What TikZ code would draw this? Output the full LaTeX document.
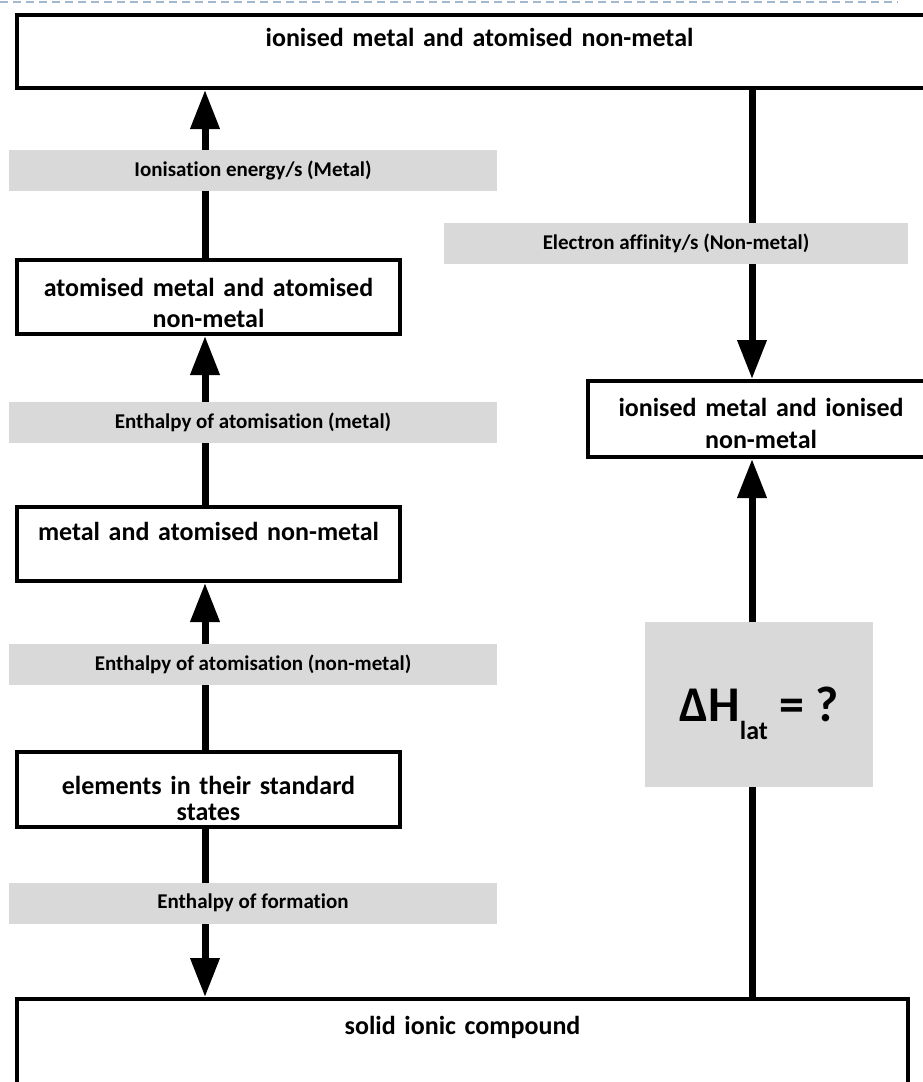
\documentclass[tikz,border=0pt]{standalone}
\usepackage{fontspec}
\setmainfont{Carlito}[Ligatures=NoCommon]
\usetikzlibrary{arrows.meta}
\definecolor{bandgray}{RGB}{217,217,217}
\definecolor{rulegray}{RGB}{163,184,204}

\begin{document}
\begin{tikzpicture}[x=1pt, y=-1pt,
    stage/.style={draw, line width=4pt, inner sep=0pt, align=center, anchor=north west,
        font=\fontsize{26}{31}\selectfont\bfseries},
    band/.style={fill=bandgray, inner sep=0pt, minimum height=41pt,
        font=\fontsize{21}{25}\selectfont\bfseries},
    flow/.style={line width=7pt, -{Triangle[width=28pt,length=39pt]}}]
    \useasboundingbox (0,0) rectangle (922,1082);
    \draw[rulegray, line width=2pt, dash pattern=on 8pt off 5pt] (0,2) -- (898,2);

    \coordinate (lcol) at (205,0);
    \coordinate (rcol) at (752,0);

    \node[stage, text width=925pt, text height=31pt, text depth=42pt] (top) at (15,13)
        {ionised metal and atomised non-metal};
    \node[stage, text width=383pt, text height=36pt, text depth=38pt] (atomised) at (15,258)
        {atomised metal and atomised\\non-metal};
    \node[stage, text width=383pt, text height=33pt, text depth=41pt] (metal) at (15,505)
        {metal and atomised non-metal};
    \node[stage, text width=383pt, text height=42pt, text depth=33pt,
        font=\fontsize{26}{26}\selectfont\bfseries] (elements) at (15,750)
        {elements in their standard\\states};
    \node[stage, text width=891pt, text height=35pt, text depth=68pt] (solid) at (15,997)
        {solid ionic compound};
    \node[stage, text width=346pt, text height=35pt, text depth=41pt,
        font=\fontsize{26}{32}\selectfont\bfseries] (ionised) at (586,379)
        {ionised metal and ionised\\non-metal};

    \draw[flow] (atomised.north -| lcol) -- (top.south -| lcol);
    \draw[flow] (metal.north -| lcol) -- (atomised.south -| lcol);
    \draw[flow] (elements.north -| lcol) -- (metal.south -| lcol);
    \draw[flow] (elements.south -| lcol) -- (solid.north -| lcol);
    \draw[flow] (top.south -| rcol) -- (ionised.north -| rcol);
    \draw[flow] (solid.north -| rcol) -- (ionised.south -| rcol);

    \node[band, minimum width=488pt] (ie) at (253,170.5) {Ionisation energy/s (Metal)};
    \node[band, minimum width=488pt] (atm) at (253,422) {Enthalpy of atomisation (metal)};
    \node[band, minimum width=488pt] (atnm) at (253,664.5) {Enthalpy of atomisation (non-metal)};
    \node[band, minimum width=488pt] (form) at (253,903) {Enthalpy of formation};
    \node[band, minimum width=464pt] (ea) at (676,243) {Electron affinity/s (Non-metal)};

    \node[fill=bandgray, minimum width=228pt, minimum height=165pt, text height=33pt, text depth=0pt,
        font=\fontsize{50}{60}\selectfont\bfseries] (lattice) at (759,704.5)
        {ΔH\raisebox{-18pt}{\fontsize{26}{30}\selectfont lat} = ?};
\end{tikzpicture}
\end{document}
